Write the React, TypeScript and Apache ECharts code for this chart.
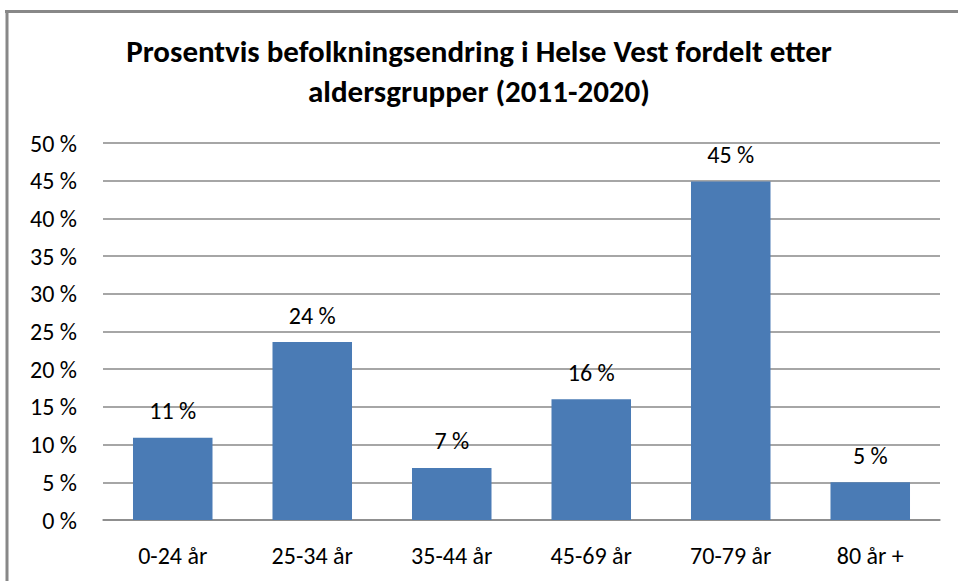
import React, { useEffect, useRef } from "react";
import * as echarts from "echarts";

const categories = ["0-24 år", "25-34 år", "35-44 år", "45-69 år", "70-79 år", "80 år +"];
const values = [10.9, 23.6, 6.9, 16.0, 44.9, 5.0];
const titleText = "Prosentvis befolkningsendring i Helse Vest fordelt etter\naldersgrupper (2011-2020)";
const FONT = "Carlito, 'Liberation Sans Narrow', 'Open Sans', sans-serif";

export default function App() {
  const ref = useRef<HTMLDivElement>(null);
  useEffect(() => {
    document.body.style.margin = "0";
    const chart = echarts.init(ref.current!, null, { renderer: "svg" });
    chart.setOption({
      animation: false,
      backgroundColor: "#ffffff",
      textStyle: { fontFamily: FONT },
      title: {
        text: titleText,
        left: "center",
        top: 26,
        textStyle: { fontFamily: FONT, fontSize: 31, fontWeight: "bold", color: "#000", lineHeight: 40 },
      },
      graphic: [
        { type: "line", shape: { x1: 5, y1: 11.5, x2: 958, y2: 11.5 }, style: { stroke: "#888888", lineWidth: 3 } },
        { type: "line", shape: { x1: 7, y1: 10, x2: 7, y2: 581 }, style: { stroke: "#888888", lineWidth: 3 } },
      ],
      grid: { left: 103, right: 18, top: 143, bottom: 61 },
      xAxis: {
        type: "category",
        data: categories,
        axisLine: { show: true, lineStyle: { color: "#888888", width: 1.5 } },
        axisTick: { show: false },
        axisLabel: { fontFamily: FONT, fontSize: 24, color: "#000", margin: 23 },
      },
      yAxis: {
        type: "value",
        min: 0,
        max: 50,
        interval: 5,
        axisLine: { show: false },
        axisTick: { show: false },
        axisLabel: { fontFamily: FONT, fontSize: 24, color: "#000", margin: 26, formatter: "{value} %" },
        splitLine: { lineStyle: { color: "#888888", width: 1.5 } },
      },
      series: [
        {
          type: "bar",
          data: values,
          barWidth: "57%",
          itemStyle: { color: "#4a7bb5" },
          label: {
            show: true,
            position: "top",
            distance: 15,
            fontFamily: FONT,
            fontSize: 24,
            color: "#000",
            formatter: (p: any) => Math.round(p.value) + " %",
          },
        },
      ],
    });
    return () => chart.dispose();
  }, []);
  return <div ref={ref} style={{ position: "fixed", left: 0, top: 0, width: 958, height: 581 }} />;
}
